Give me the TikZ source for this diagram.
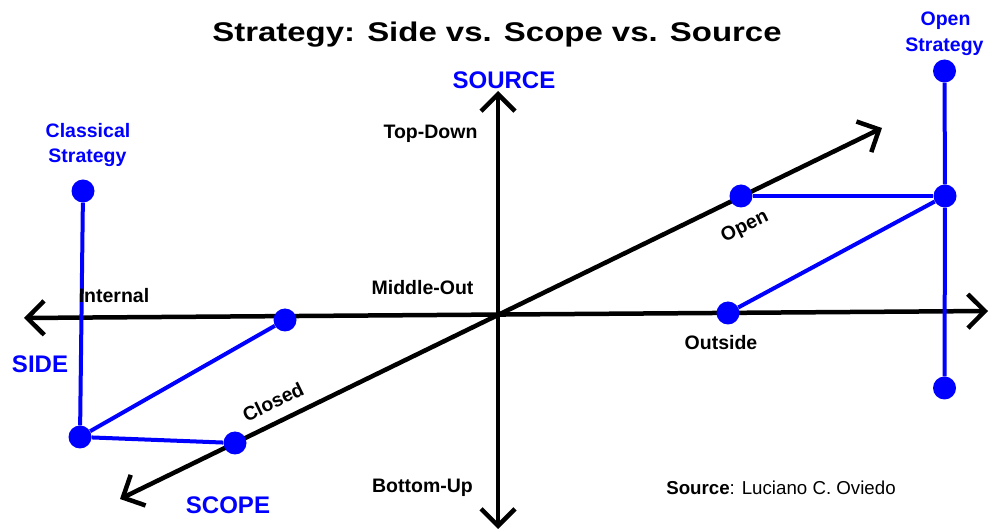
\documentclass[tikz,border=0pt]{standalone}
\usepackage{fontspec}
\usepackage{graphicx}
\setmainfont{Liberation Sans}
\usetikzlibrary{arrows.meta}
\definecolor{stratblue}{RGB}{0,0,255}
\tikzset{
  axis/.style={line width=4.5pt, black,
    {Straight Barb[length=17pt,width=34pt,line width=4.5pt]}-{Straight Barb[length=17pt,width=34pt,line width=4.5pt]}},
  bline/.style={draw=stratblue, line width=4pt},
  dot/.style={circle, fill=stratblue, minimum size=23pt, inner sep=0pt},
  lbl/.style={font=\fontsize{19.5}{22}\selectfont\bfseries, inner sep=0pt, anchor=base},
  blbl/.style={lbl, text=stratblue},
  big/.style={font=\fontsize{24}{26}\selectfont\bfseries, inner sep=0pt, anchor=base, text=stratblue},
}
\begin{document}
\begin{tikzpicture}[x=1pt,y=-1pt]
\useasboundingbox (0,0) rectangle (989,529);

% axis end points
\coordinate (hl) at (24,318);
\coordinate (hr) at (988,311);
\coordinate (vt) at (498,91);
\coordinate (vb) at (498,529);
\coordinate (dl) at (120,499);
\coordinate (dr) at (882,128);

\draw[axis] (hl) -- (hr);
\draw[axis] (vb) -- (vt);
\draw[axis] (dl) -- (dr);

% dots
\node[dot] (ctop) at (83,191) {};
\node[dot] (cint) at (285,320) {};
\node[dot] (cbot) at (80,437) {};
\node[dot] (cclo) at (235,443) {};
\node[dot] (oopen) at (741,196) {};
\node[dot] (oout) at (728,313) {};
\node[dot] (otop) at (944.5,71) {};
\node[dot] (omid) at (945,196) {};
\node[dot] (obot) at (944.5,388) {};

% blue connectors
\draw[bline] (ctop) -- (cbot);
\draw[bline] (cbot) -- (cint);
\draw[bline] (cbot) -- (cclo);
\draw[bline] (otop) -- (omid);
\draw[bline] (omid) -- (obot);
\draw[bline] (oopen) -- (omid);
\draw[bline] (oout) -- (omid);

% title
\node[anchor=base, inner sep=0pt] (title) at (497,42)
  {\scalebox{1.22}[1]{\fontsize{27}{30}\selectfont\bfseries Strategy: Side vs. Scope vs. Source}};

% axis labels
\node[big] (source) at (504,89) {SOURCE};
\node[big] (side) at (40,373) {SIDE};
\node[big] (scope) at (228,514) {SCOPE};

\node[lbl] (topdown) at (430.5,139) {Top-Down};
\node[lbl] (middleout) at (422.5,295) {Middle-Out};
\node[lbl] (bottomup) at (422.5,493) {Bottom-Up};
\node[lbl] (internal) at (114,302.5) {Internal};
\node[lbl] (outside) at (721,349.3) {Outside};
\node[lbl, anchor=center, rotate=26] (closed) at (273,402) {Closed};
\node[lbl, anchor=center, rotate=26] (open) at (745,227) {Open};

% strategy labels
\node[blbl] (cl1) at (88,138) {Classical};
\node[blbl] (cl2) at (87.5,163) {Strategy};
\node[blbl] (op1) at (945.5,26) {Open};
\node[blbl] (op2) at (944.5,51.5) {Strategy};

% credit
\node[anchor=base, inner sep=0pt, font=\fontsize{18.7}{21}\selectfont] (credit) at (781,494.3)
  {\textbf{Source}: Luciano C. Oviedo};
\end{tikzpicture}
\end{document}
